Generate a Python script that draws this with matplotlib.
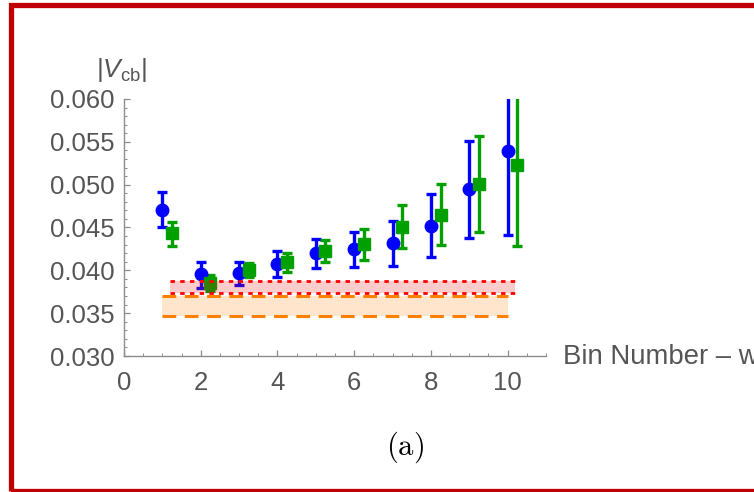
import matplotlib
matplotlib.use("Agg")
import matplotlib.pyplot as plt
from matplotlib.patches import Rectangle
from matplotlib.ticker import MultipleLocator

# ── data ──
bins = [1, 2, 3, 4, 5, 6, 7, 8, 9, 10]

blue_val = [0.0470, 0.0396, 0.0397, 0.0407, 0.0420, 0.0425, 0.0432, 0.0452, 0.0495, 0.0539]
blue_hi = [0.0491, 0.0410, 0.0410, 0.0423, 0.0437, 0.0445, 0.0458, 0.0489, 0.0551, 0.0640]
blue_lo = [0.0451, 0.0379, 0.0383, 0.0392, 0.0403, 0.0404, 0.0405, 0.0416, 0.0438, 0.0441]

green_val = [0.0444, 0.0385, 0.0400, 0.0410, 0.0423, 0.0431, 0.0451, 0.0465, 0.0501, 0.0523]
green_hi = [0.0456, 0.0395, 0.0409, 0.0420, 0.0435, 0.0448, 0.0476, 0.0501, 0.0557, 0.0640]
green_lo = [0.0428, 0.0376, 0.0392, 0.0398, 0.0410, 0.0412, 0.0426, 0.0430, 0.0445, 0.0428]
green_shift = 0.25

red_band = (0.03735, 0.03875)
red_span = (1.2, 10.2)
orange_band = (0.03465, 0.0370)
orange_span = (1.0, 10.0)

BLUE = "#0000ff"
GREEN = "#00a000"
RED = "#ff0000"
ORANGE = "#ff8000"
GREY_TXT = "#555555"
GREY_AX = "#8c8c8c"

plt.rcParams["font.family"] = ["Liberation Sans", "DejaVu Sans"]
plt.rcParams["mathtext.fontset"] = "custom"
plt.rcParams["mathtext.rm"] = "Liberation Sans"
plt.rcParams["mathtext.it"] = "Liberation Sans:italic"

fig = plt.figure(figsize=(7.54, 4.92), dpi=100)
W, H = 754, 492
ax = fig.add_axes([124 / W, 1 - 356 / H, (546 - 124) / W, (356 - 99) / H])

# error bars
blue_err = [[v - l for v, l in zip(blue_val, blue_lo)], [h - v for v, h in zip(blue_val, blue_hi)]]
green_err = [[v - l for v, l in zip(green_val, green_lo)], [h - v for v, h in zip(green_val, green_hi)]]
gx = [b + green_shift for b in bins]

ax.errorbar(bins, blue_val, yerr=blue_err, fmt="o", color=BLUE, ms=9,
            elinewidth=2.4, capsize=3.8, capthick=2.4, zorder=3)
ax.errorbar(gx, green_val, yerr=green_err, fmt="s", color=GREEN, ms=8.5,
            elinewidth=2.4, capsize=3.8, capthick=2.4, zorder=3)

# bands on top, semi transparent
ax.fill_between(orange_span, orange_band[0], orange_band[1], color=ORANGE, alpha=0.2, lw=0, zorder=4)
ax.hlines(orange_band, orange_span[0], orange_span[1], colors=ORANGE, lw=2.2,
          linestyles=(0, (4.5, 2.8)), zorder=5)
ax.fill_between(red_span, red_band[0], red_band[1], color=RED, alpha=0.2, lw=0, zorder=4)
ax.hlines(red_band, red_span[0], red_span[1], colors=RED, lw=2.0,
          linestyles=(0, (1.6, 1.9)), zorder=5)

# axes look (Mathematica style)
ax.set_xlim(0, 11)
ax.set_ylim(0.030, 0.060)
for side in ["top", "right"]:
    ax.spines[side].set_visible(False)
for side in ["left", "bottom"]:
    ax.spines[side].set_color(GREY_AX)
    ax.spines[side].set_linewidth(1.0)

ax.xaxis.set_major_locator(MultipleLocator(2))
ax.xaxis.set_minor_locator(MultipleLocator(0.5))
ax.yaxis.set_major_locator(MultipleLocator(0.005))
ax.yaxis.set_minor_locator(MultipleLocator(0.001))
ax.yaxis.set_major_formatter(matplotlib.ticker.FormatStrFormatter("%.3f"))
ax.tick_params(which="both", direction="in", color=GREY_AX, labelcolor=GREY_TXT, labelsize=18.5)
ax.tick_params(which="major", length=4.5, width=0.9)
ax.tick_params(which="minor", length=2.5, width=0.7)
ax.tick_params(axis="y", pad=7)
ax.tick_params(axis="x", pad=11)

fig.text(122 / W, 1 - 70 / H, r"$|V_{\mathrm{cb}}|$", ha="center", va="center",
         fontsize=19, color=GREY_TXT)
# axis label runs off the right edge of the crop, as in the source
fig.text(563 / W, 1 - 357 / H, "Bin Number \u2013 w", ha="left", va="center",
         fontsize=19.8, color=GREY_TXT)
fig.text(405 / W, 1 - 447 / H, r"$\mathrm{(a)}$", ha="center", va="center",
         fontsize=22, color="black", math_fontfamily="cm")

# dark red frame (right side runs off the crop)
fig.patches.append(Rectangle((10.5 / W, 1 - 490.5 / H), 1.2, (490.5 - 5) / H,
                             transform=fig.transFigure, fill=False,
                             edgecolor="#c00000", lw=3.8, zorder=10))

fig.savefig("out.png", dpi=100)
